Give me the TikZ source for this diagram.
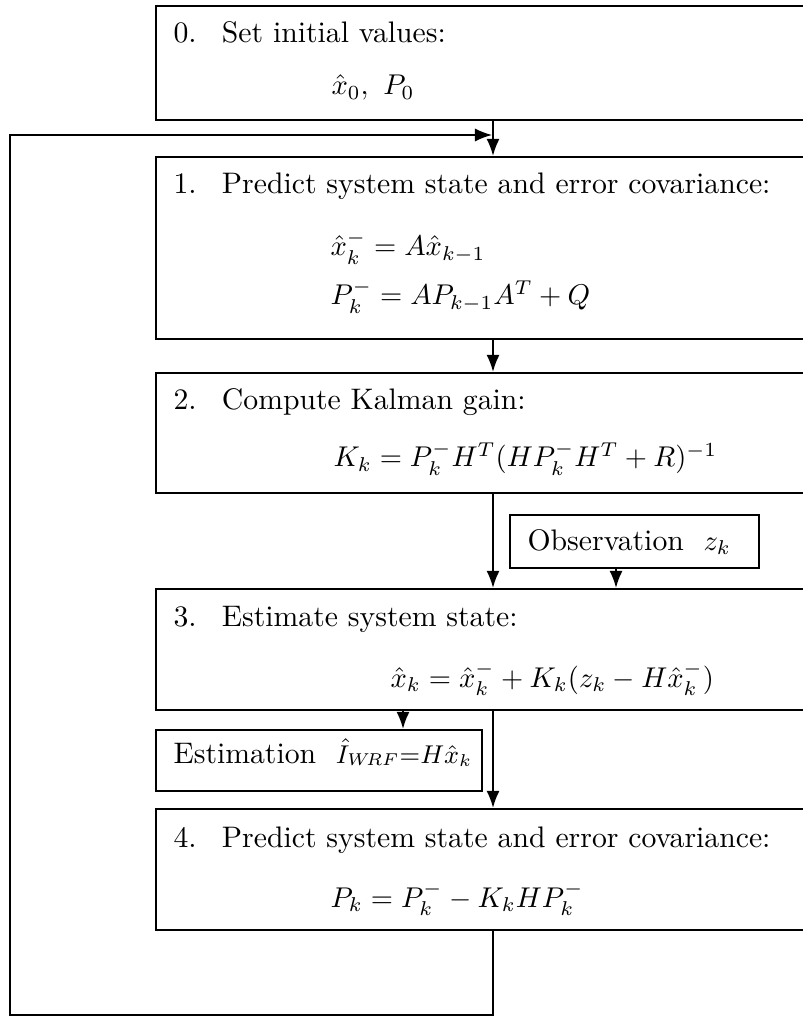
\documentclass[tikz,border=0pt]{standalone}
\usepackage{amsmath}
\usetikzlibrary{arrows.meta,positioning,calc}
\tikzset{
  stepbox/.style={
    draw,
    rectangle,
    line width=0.7pt,
    anchor=north west,
    minimum width=229pt,
    inner sep=0pt
  },
  smallbox/.style={
    draw,
    rectangle,
    line width=0.6pt,
    anchor=north west,
    inner sep=0pt
  },
  txt/.style={
    anchor=base west,
    inner sep=0pt,
    font=\fontsize{10.4}{12.5}\selectfont
  },
  line/.style={
    -{Latex[length=6pt,width=4.6pt]},
    line width=0.7pt
  },
  loopline/.style={
    -{Latex[length=6pt,width=4.6pt]},
    line width=0.5pt
  }
}

\begin{document}
\begin{tikzpicture}[x=0.35pt,y=-0.35pt]
\useasboundingbox (0,0) rectangle (803,1019);
\clip (0,0) rectangle (803,1019);

% steps
\node[stepbox, minimum height=39.9pt] (s0) at (155,5) {};
\node[stepbox, minimum height=63.7pt] (s1) at (155,156) {};
\node[stepbox, minimum height=42pt] (s2) at (155,372) {};
\node[smallbox, minimum width=87.2pt, minimum height=18.6pt] (obs) at (509,514) {};
\node[stepbox, minimum height=42.4pt] (s3) at (155,588) {};
\node[smallbox, minimum width=114.1pt, minimum height=21.4pt] (est) at (155,729) {};
\node[stepbox, minimum height=42.4pt] (s4) at (155,808) {};

% texts
\node[txt] (t0) at ($(s0.north west)+(18,38)$) {0.\hspace{0.85em}Set initial values:};
\node[txt] (e0) at ($(s0.north west)+(176,90)$) {$\hat{x}_0,\ P_0$};
\node[txt] (t1) at ($(s1.north west)+(18,38)$) {1.\hspace{0.85em}Predict system state and error covariance:};
\node[txt] (e1a) at ($(s1.north west)+(175,100)$) {$\hat{x}_k^- = A\hat{x}_{k-1}$};
\node[txt] (e1b) at ($(s1.north west)+(175,149)$) {$P_k^- = AP_{k-1}A^T + Q$};
\node[txt] (t2) at ($(s2.north west)+(18,38)$) {2.\hspace{0.85em}Compute Kalman gain:};
\node[txt] (e2) at ($(s2.north west)+(178,95)$) {$K_k = P_k^- H^T (HP_k^- H^T + R)^{-1}$};
\node[txt] (to) at ($(obs.north west)+(18,36)$) {Observation\ \ $z_k$};
\node[txt] (t3) at ($(s3.north west)+(18,38)$) {3.\hspace{0.85em}Estimate system state:};
\node[txt] (e3) at ($(s3.north west)+(235,99)$) {$\hat{x}_k = \hat{x}_k^- + K_k(z_k - H\hat{x}_k^-)$};
\node[txt] (te) at ($(est.north west)+(18,34)$) {Estimation\ \ {\fontsize{9.2}{11}\selectfont$\hat{I}_{W\!RF}{=}H\hat{x}_k$}};
\node[txt] (t4) at ($(s4.north west)+(18,39)$) {4.\hspace{0.85em}Predict system state and error covariance:};
\node[txt] (e4) at ($(s4.north west)+(175,99)$) {$P_k = P_k^- - K_k H P_k^-$};

% columns and loop corners
\coordinate (col) at (493,0);
\coordinate (obsx) at (616,0);
\coordinate (estx) at (403,0);
\coordinate (lb) at (10,1015);
\coordinate (lt) at (10,135);
\coordinate (join) at (492,135);

\draw[line] (s0.south -| col) -- (s1.north -| col);
\draw[line] (s1.south -| col) -- (s2.north -| col);
\draw[line] (s2.south -| col) -- (s3.north -| col);
\draw[line] (obs.south -| obsx) -- (s3.north -| obsx);
\draw[line] (s3.south -| estx) -- (est.north -| estx);
\draw[line] (s3.south -| col) -- (s4.north -| col);
\draw[loopline] (s4.south -| col) |- (lb) -- (lt) -- (join);

\end{tikzpicture}
\end{document}
